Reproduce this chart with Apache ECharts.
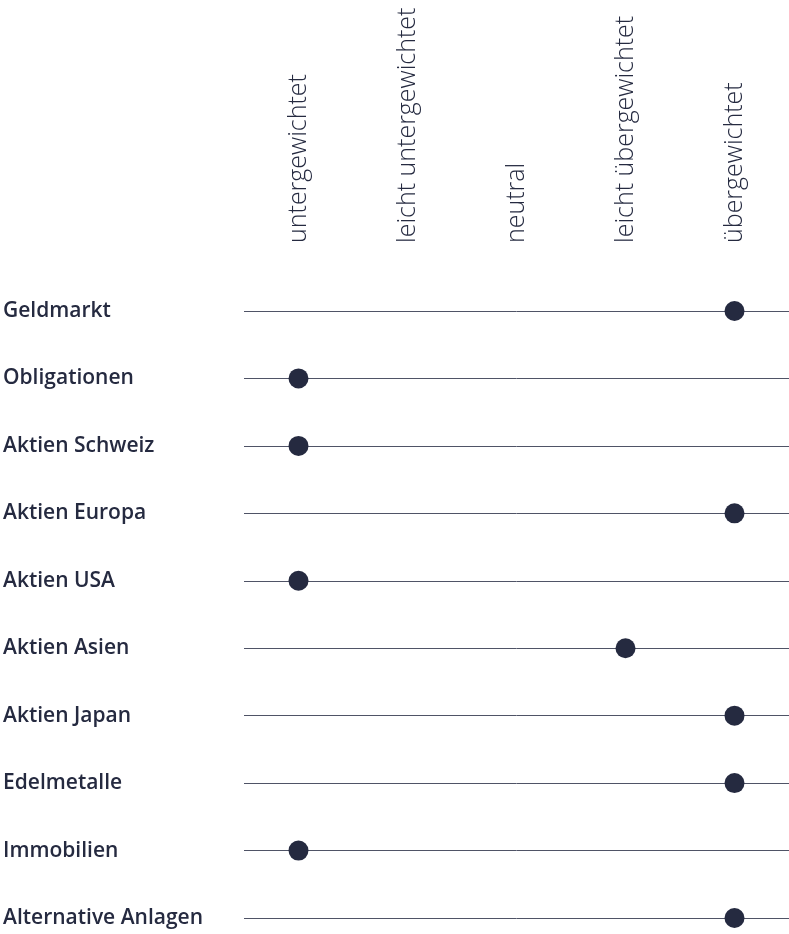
<!DOCTYPE html>
<html>
<head>
<meta charset="utf-8">
<script src="https://cdn.jsdelivr.net/npm/echarts@6/dist/echarts.min.js"></script>
<style>
  html, body { margin: 0; padding: 0; background: #fff; }
  #chart { width: 789px; height: 934px; }
</style>
</head>
<body>
<div id="chart"></div>
<script>
// Gewichtungsstufen (x-Achse) und Anlageklassen (y-Achse)
var levels = ['untergewichtet', 'leicht untergewichtet', 'neutral', 'leicht übergewichtet', 'übergewichtet'];
var assets = ['Geldmarkt', 'Obligationen', 'Aktien Schweiz', 'Aktien Europa', 'Aktien USA',
  'Aktien Asien', 'Aktien Japan', 'Edelmetalle', 'Immobilien', 'Alternative Anlagen'];
var positions = ['übergewichtet', 'untergewichtet', 'untergewichtet', 'übergewichtet', 'untergewichtet',
  'leicht übergewichtet', 'übergewichtet', 'übergewichtet', 'untergewichtet', 'übergewichtet'];

var navy = '#252a40';

var myChart = echarts.init(document.getElementById('chart'));
myChart.setOption({
  animation: false,
  grid: { left: 243, right: 0, top: 311, bottom: 16, containLabel: false },
  xAxis: {
    type: 'category',
    position: 'top',
    data: levels,
    boundaryGap: true,
    axisLine: { show: false },
    axisTick: { show: false },
    splitLine: { show: false },
    axisLabel: {
      rotate: -90,
      margin: 68,
      color: navy,
      fontFamily: 'Open Sans',
      fontWeight: 300,
      fontSize: 25,
      padding: [0, 0, 0, 0]
    }
  },
  yAxis: {
    type: 'category',
    data: assets,
    inverse: true,
    boundaryGap: false,
    axisLine: { show: false },
    axisTick: { show: false },
    splitLine: { show: true, lineStyle: { color: '#4f5366', width: 1 } },
    axisLabel: {
      align: 'left',
      margin: 241,
      color: navy,
      fontFamily: 'Open Sans',
      fontWeight: 600,
      fontSize: 21,
      padding: [6, 0, 0, 0]
    }
  },
  series: [{
    type: 'scatter',
    symbol: 'circle',
    symbolSize: 20,
    itemStyle: { color: navy, opacity: 1 },
    data: assets.map(function (a, i) { return [positions[i], a]; })
  }]
});
</script>
</body>
</html>
